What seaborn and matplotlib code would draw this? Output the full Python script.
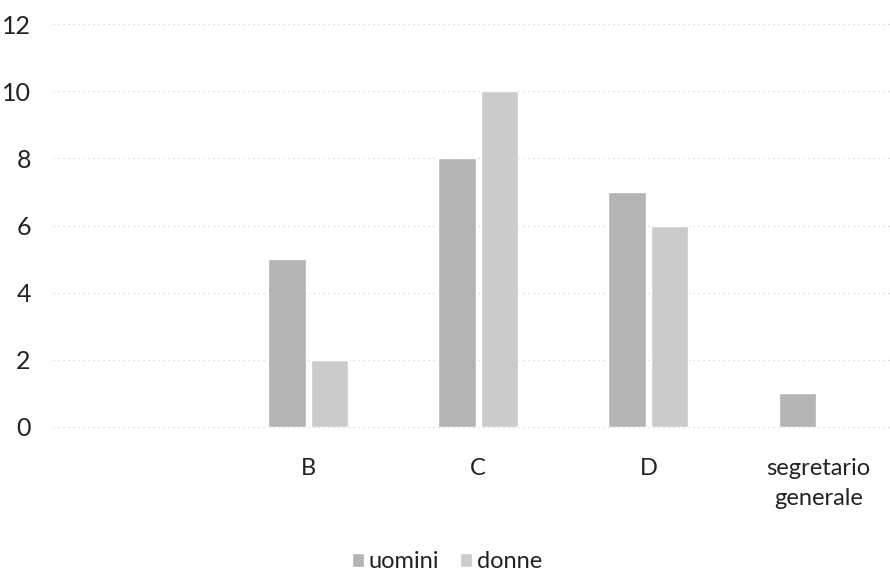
import pandas as pd
import seaborn as sns
from matplotlib import pyplot as plt

categorie = ["", "B", "C", "D", "segretario\ngenerale"]
uomini = [0, 5, 8, 7, 1]
donne = [0, 2, 10, 6, 0]
y_ticks = [0, 2, 4, 6, 8, 10, 12]

df = pd.DataFrame({
    "categoria": categorie * 2,
    "valore": uomini + donne,
    "sesso": ["uomini"] * len(categorie) + ["donne"] * len(categorie),
})

sns.set_theme(style="white")
plt.rcParams['font.family'] = ['Lato', 'DejaVu Sans']

fig = plt.figure(figsize=(8.9, 5.81), dpi=100)
ax = fig.add_axes([53 / 890, (581 - 427) / 581, 837 / 890, 403 / 581])

sns.barplot(data=df, x="categoria", y="valore", hue="sesso",
            palette={"uomini": "#b4b4b4", "donne": "#cbcbcb"},
            width=0.5, gap=0.12, ax=ax, legend=True)

ax.set_xlim(-0.5, 4.42)
ax.set_ylim(0, 12)
ax.set_yticks(y_ticks)
ax.set_xticks(range(len(categorie)))
ax.set_xticklabels(categorie, linespacing=1.55, va="top")
ax.grid(axis="y", color="#d4d4d4", linestyle=(0, (1, 3)), linewidth=0.9)
ax.set_axisbelow(True)
for g in ax.get_ygridlines():
    g.set_clip_on(False)
ax.set_xlabel("")
ax.set_ylabel("")
ax.tick_params(axis="y", length=0, pad=16, labelsize=18, labelcolor="#222222")
ax.tick_params(axis="x", length=0, pad=22, labelsize=17, labelcolor="#222222")
sns.despine(left=True, bottom=True, right=True, top=True)

leg = ax.legend(loc="center", bbox_to_anchor=(447 / 890, (581 - 562) / 581),
                bbox_transform=fig.transFigure, ncol=2, frameon=False,
                fontsize=17, handlelength=0.5, handleheight=0.5,
                handletextpad=0.2, columnspacing=0.9)
for t in leg.get_texts():
    t.set_color("#222222")

fig.savefig("out.png", dpi=100)
